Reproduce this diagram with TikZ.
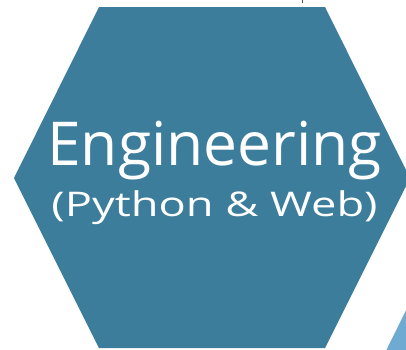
\documentclass[tikz,border=0pt]{standalone}
\usepackage{fontspec}
\setmainfont{Open Sans}
\definecolor{hexteal}{HTML}{3C7D9B}
\definecolor{hexsky}{HTML}{6FAAD3}
\begin{document}
\begin{tikzpicture}[x=1pt,y=-1pt,
  hexfill/.style={fill=hexteal},
  label/.style={text=white,inner sep=0pt,anchor=base}]
  \useasboundingbox (0,0) rectangle (406,349);
  \clip (0,0) rectangle (406,349);
  % neighbouring hexagon, only its corner shows
  \fill[hexsky] (416,290) -- (377,369) -- (460,369) -- (460,290) -- cycle;
  % main hexagon
  \fill[hexfill] (99,7) -- (325,7) -- (410,178) -- (325,348) -- (99,348) -- (14,178) -- cycle;
  % clipped fragment of a caption above
  \fill[black!70] (301.5,0) rectangle (303,2.5);
  \node[label,font=\fontsize{60.5}{64}\selectfont] (title) at (214.5,165) {Engineering};
  \node[label,font=\fontsize{34}{38}\selectfont] (subtitle) at (214.5,216)
    {\scalebox{1.33}[1]{(Python \& Web)}};
\end{tikzpicture}
\end{document}
